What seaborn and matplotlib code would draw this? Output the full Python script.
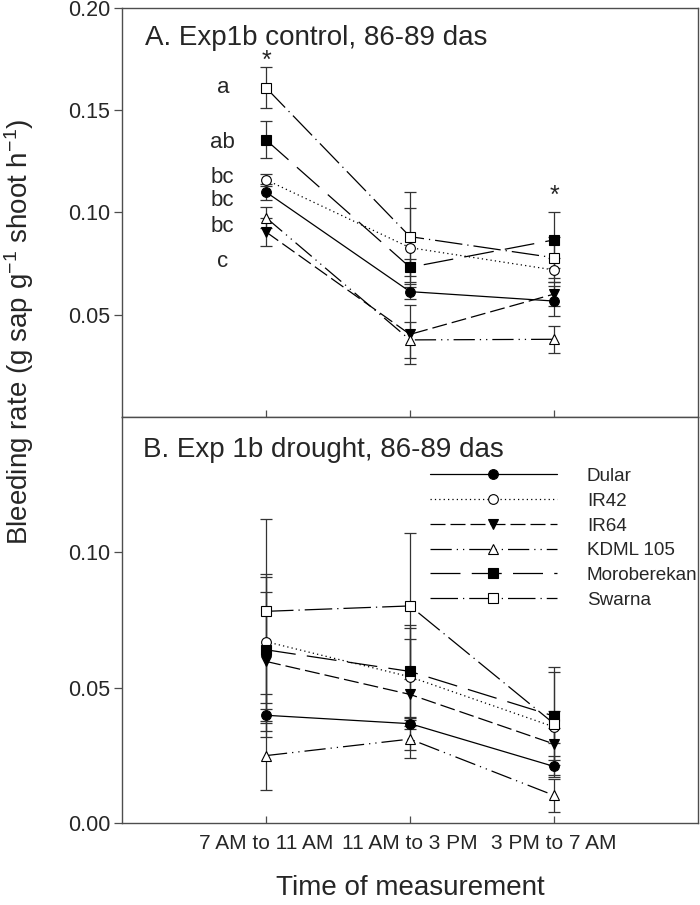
import numpy as np
import pandas as pd
import seaborn as sns
import matplotlib.pyplot as plt

# categories
times = ['7 AM to 11 AM', '11 AM to 3 PM', '3 PM to 7 AM']
cultivars = ['Dular', 'IR42', 'IR64', 'KDML 105', 'Moroberekan', 'Swarna']

# A. control, means and SE (g sap g-1 shoot h-1)
dular_a = [0.110, 0.0613, 0.0567]
ir42_a = [0.116, 0.0828, 0.0719]
ir64_a = [0.0905, 0.0404, 0.0601]
kdml_a = [0.0975, 0.0377, 0.0380]
moro_a = [0.1355, 0.0732, 0.0866]
swarna_a = [0.161, 0.0882, 0.0779]

dular_a_se = [0.004, 0.0035, 0.0072]
ir42_a_se = [0.003, 0.0192, 0.0057]
ir64_a_se = [0.007, 0.0145, 0.006]
kdml_a_se = [0.005, 0.0089, 0.0067]
moro_a_se = [0.009, 0.0042, 0.0138]
swarna_a_se = [0.010, 0.022, 0.010]

# B. drought, means and SE
dular_b = [0.0398, 0.0367, 0.0209]
ir42_b = [0.067, 0.054, 0.0355]
ir64_b = [0.0597, 0.0475, 0.0292]
kdml_b = [0.0249, 0.031, 0.0102]
moro_b = [0.064, 0.056, 0.0395]
swarna_b = [0.0782, 0.0802, 0.0367]

dular_b_se = [0.008, 0.002, 0.004]
ir42_b_se = [0.025, 0.018, 0.006]
ir64_b_se = [0.0256, 0.0205, 0.006]
kdml_b_se = [0.0128, 0.007, 0.006]
moro_b_se = [0.027, 0.017, 0.018]
swarna_b_se = [0.034, 0.027, 0.019]

# significance letters at first time point (panel A)
letters = ['a', 'ab', 'bc', 'bc', 'bc', 'c']
letter_y = [0.161, 0.134, 0.117, 0.106, 0.093, 0.076]
star_x = [0, 2]
star_y = [0.174, 0.108]

means_a = [dular_a, ir42_a, ir64_a, kdml_a, moro_a, swarna_a]
errs_a = [dular_a_se, ir42_a_se, ir64_a_se, kdml_a_se, moro_a_se, swarna_a_se]
means_b = [dular_b, ir42_b, ir64_b, kdml_b, moro_b, swarna_b]
errs_b = [dular_b_se, ir42_b_se, ir64_b_se, kdml_b_se, moro_b_se, swarna_b_se]

# marker, face colour, line style per cultivar
styles = {
    'Dular': ('o', 'black', '-'),
    'IR42': ('o', 'white', (0, (1, 2.5))),
    'IR64': ('v', 'black', (0, (12, 4))),
    'KDML 105': ('^', 'white', (0, (17, 4, 1, 4, 1, 4))),
    'Moroberekan': ('s', 'black', (0, (24, 9))),
    'Swarna': ('s', 'white', (0, (22, 4, 1, 4))),
}

sns.set_style('ticks')
plt.rcParams['font.family'] = ['Liberation Sans', 'DejaVu Sans']
plt.rcParams['mathtext.default'] = 'regular'

fig = plt.figure(figsize=(7, 9.05), dpi=100)
ax_a = fig.add_axes([122 / 700, 1 - 417 / 905, 576 / 700, 409 / 905])
ax_b = fig.add_axes([122 / 700, 1 - 823 / 905, 576 / 700, 406 / 905])

pos = np.arange(len(times))
spine_col = '#4d4d4d'

for ax, means, errs in [(ax_a, means_a, errs_a), (ax_b, means_b, errs_b)]:
    for name, m, e in zip(cultivars, means, errs):
        mk, fc, ls = styles[name]
        ax.errorbar(pos, m, yerr=e, fmt='none', ecolor='#333333',
                    elinewidth=0.9, capsize=4.5, capthick=0.9, zorder=1.5)
        df = pd.DataFrame({'time': pos, 'rate': m})
        sns.lineplot(data=df, x='time', y='rate', ax=ax, color='black',
                     linewidth=0.9, linestyle=ls, marker=mk,
                     markersize=7.5 if mk in 'v^' else 7,
                     markerfacecolor=fc, markeredgecolor='black',
                     markeredgewidth=0.8, label=name, legend=False,
                     errorbar=None)
    ax.set_xlim(-1, 3)
    ax.set_xticks(pos)
    ax.set_xlabel('')
    ax.set_ylabel('')
    for sp in ax.spines.values():
        sp.set_visible(True)
        sp.set_color(spine_col)
        sp.set_linewidth(1.0)
    ax.tick_params(axis='x', direction='in', length=5, width=0.9,
                   color=spine_col, labelsize=15, pad=8)
    ax.tick_params(axis='y', direction='out', length=5.5, width=0.9,
                   color=spine_col, labelsize=15.5, pad=3)

ax_a.set_ylim(0, 0.20)
ax_a.set_yticks([0.05, 0.10, 0.15, 0.20])
ax_a.set_yticklabels(['0.05', '0.10', '0.15', '0.20'])
ax_a.set_xticklabels([])

ax_b.set_ylim(0, 0.15)
ax_b.set_yticks([0.0, 0.05, 0.10])
ax_b.set_yticklabels(['0.00', '0.05', '0.10'])
ax_b.set_xticklabels(times)
ax_b.set_xlabel('Time of measurement', fontsize=20, labelpad=16)

for lt, ly in zip(letters, letter_y):
    ax_a.text(-0.30, ly, lt, fontsize=16, ha='center', va='center')
for sx, sy in zip(star_x, star_y):
    ax_a.text(sx, sy, '*', fontsize=18, ha='center', va='center')

ax_a.text(0.040, 0.927, 'A. Exp1b control, 86-89 das', transform=ax_a.transAxes,
          fontsize=20, ha='left', va='center')
ax_b.text(0.037, 0.919, 'B. Exp 1b drought, 86-89 das', transform=ax_b.transAxes,
          fontsize=20, ha='left', va='center')

ax_b.legend(loc='upper left', bbox_to_anchor=(0.535, 0.875), frameon=False,
            fontsize=13.6, handlelength=6.7, handletextpad=1.6,
            labelspacing=0.4, borderpad=0, borderaxespad=0, numpoints=1)

fig.text(19 / 700, 1 - 332 / 905, r'Bleeding rate (g sap g$^{-1}$ shoot h$^{-1}$)',
         rotation=90, ha='center', va='center', fontsize=20)

fig.savefig('out.png', dpi=100)
